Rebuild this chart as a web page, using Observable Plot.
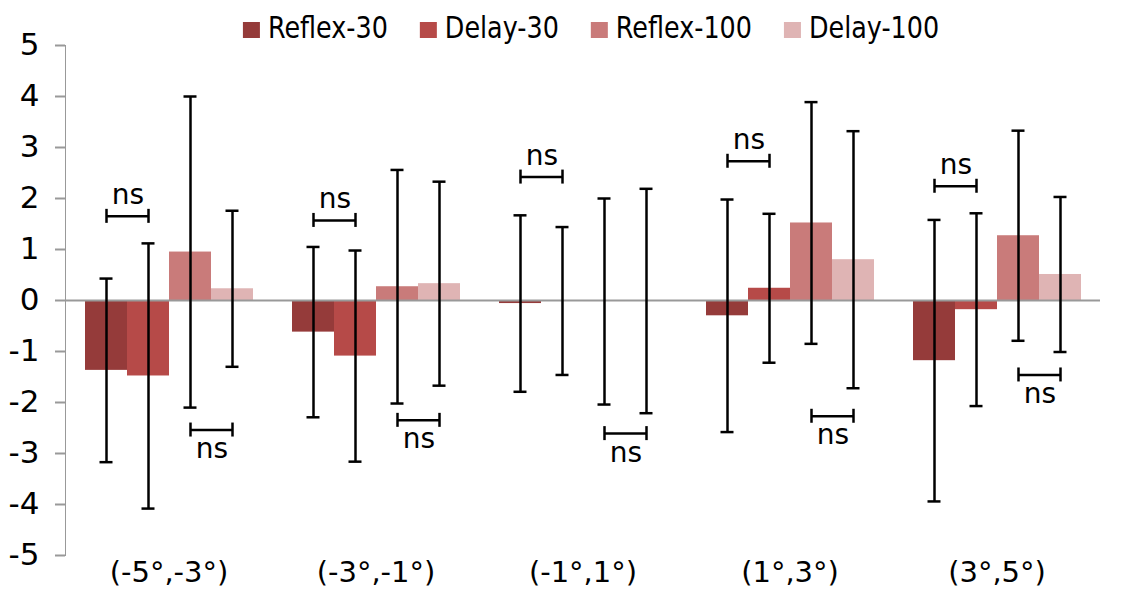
<!DOCTYPE html>
<html>
<head>
<meta charset="utf-8">
<script src="https://cdn.jsdelivr.net/npm/d3@7"></script>
<script src="https://cdn.jsdelivr.net/npm/@observablehq/plot@0.6"></script>
<style>
  html, body { margin: 0; padding: 0; background: #fff; }
  #wrap { position: relative; width: 1126px; height: 590px; }
  #wrap svg text { fill: #000; }
  #chart g[aria-label^="y-axis"] text { font-size: 31px; }
  #chart g[aria-label^="fx-axis"] text { font-size: 29px; }
  #chart g[aria-label^="y-axis"] line,
  #chart g[aria-label^="y-axis"] path { stroke: #999; stroke-width: 2; }
  #legend { position: absolute; left: 0; top: 0; }
</style>
</head>
<body>
<div id="wrap">
  <div id="chart"></div>
  <svg id="legend" width="1126" height="50"></svg>
</div>
<script>
// Eye-position bins and the four conditions
const categories = ["(-5°,-3°)", "(-3°,-1°)", "(-1°,1°)", "(1°,3°)", "(3°,5°)"];
const series = ["Reflex-30", "Delay-30", "Reflex-100", "Delay-100"];
const colors = ["#953b3a", "#b64a48", "#c97b7a", "#dfb4b4"];

// Mean per bin and condition
const reflex30 = [-1.37, -0.62, -0.06, -0.30, -1.18];
const delay30 = [-1.48, -1.09, -0.01, 0.24, -0.18];
const reflex100 = [0.95, 0.27, -0.02, 1.52, 1.27];
const delay100 = [0.23, 0.33, -0.01, 0.80, 0.51];

// Error bar half-lengths
const reflex30Err = [1.80, 1.67, 1.73, 2.28, 2.76];
const delay30Err = [2.60, 2.07, 1.45, 1.46, 1.89];
const reflex100Err = [3.05, 2.29, 2.02, 2.37, 2.06];
const delay100Err = [1.53, 2.00, 2.20, 2.52, 1.52];

// Heights of the "ns" comparison brackets
const nsAbove = [1.65, 1.57, 2.42, 2.73, 2.24];      // Reflex-30 vs Delay-30
const nsBelow = [-2.54, -2.35, -2.61, -2.27, -1.46]; // Reflex-100 vs Delay-100

const yTicks = [-5, -4, -3, -2, -1, 0, 1, 2, 3, 4, 5];

const means = [reflex30, delay30, reflex100, delay100];
const errs = [reflex30Err, delay30Err, reflex100Err, delay100Err];

const rows = [];
series.forEach((s, si) => categories.forEach((c, ci) => {
  rows.push({cat: c, series: s, value: means[si][ci], err: errs[si][ci]});
}));
const lo = d => d.value - d.err;
const hi = d => d.value + d.err;

const above = categories.map((c, i) => ({cat: c, y: nsAbove[i], from: "Reflex-30", to: "Delay-30"}));
const below = categories.map((c, i) => ({cat: c, y: nsBelow[i], from: "Reflex-100", to: "Delay-100"}));
const brackets = above.concat(below);

const ink = {stroke: "#000", strokeWidth: 2.5};

const chart = Plot.plot({
  width: 1126,
  height: 590,
  marginLeft: 64,
  marginRight: 26,
  marginTop: 45,
  marginBottom: 35,
  style: {fontFamily: "DejaVu Sans", fontSize: "28px", color: "#999", background: "#fff"},
  fx: {domain: categories, padding: 0, axis: "bottom", label: null, tickSize: 0, tickPadding: 6},
  x: {domain: series, axis: null, paddingInner: 0, paddingOuter: 0.41},
  y: {domain: [-5, 5], ticks: yTicks, tickSize: 10, tickPadding: 16, line: true, label: null, tickFormat: d => String(d)},
  color: {domain: series, range: colors},
  marks: [
    Plot.barY(rows, {fx: "cat", x: "series", y: "value", fill: "series"}),
    Plot.ruleY([0], {stroke: "#999", strokeWidth: 2}),
    // error bars with caps
    Plot.ruleX(rows, {fx: "cat", x: "series", y1: lo, y2: hi, ...ink}),
    Plot.tickY(rows, {fx: "cat", x: "series", y: lo, inset: 14.5, ...ink}),
    Plot.tickY(rows, {fx: "cat", x: "series", y: hi, inset: 14.5, ...ink}),
    // significance brackets
    Plot.link(brackets, {fx: "cat", x1: "from", x2: "to", y1: "y", y2: "y", ...ink}),
    Plot.ruleX(brackets, {fx: "cat", x: "from", y1: "y", y2: "y", insetTop: -7, insetBottom: -7, ...ink}),
    Plot.ruleX(brackets, {fx: "cat", x: "to", y1: "y", y2: "y", insetTop: -7, insetBottom: -7, ...ink}),
    Plot.text(above, {fx: "cat", x: "from", y: "y", text: () => "ns", dx: 21.5, dy: -21, fontSize: 28, fill: "#000"}),
    Plot.text(below, {fx: "cat", x: "from", y: "y", text: () => "ns", dx: 21.5, dy: 19, fontSize: 28, fill: "#000"})
  ]
});
document.getElementById("chart").appendChild(chart);

// Legend across the top, centred over the plot area
const leg = d3.select("#legend");
const legFont = 31, squeeze = 0.82, sw = 17, sh = 16, gapText = 8, gapItem = 32, legCenter = 591;
const items = series.map((s, i) => {
  const t = leg.append("text")
    .attr("font-family", "DejaVu Sans")
    .attr("font-size", legFont)
    .attr("y", 38)
    .text(s);
  const w = t.node().getComputedTextLength() * squeeze;
  t.attr("textLength", w).attr("lengthAdjust", "spacingAndGlyphs");
  return {t, w, color: colors[i]};
});
const total = d3.sum(items, d => sw + gapText + d.w) + gapItem * (items.length - 1);
let x0 = legCenter - total / 2;
items.forEach(d => {
  leg.append("rect").attr("x", x0).attr("y", 22).attr("width", sw).attr("height", sh).attr("fill", d.color);
  d.t.attr("x", x0 + sw + gapText);
  x0 += sw + gapText + d.w + gapItem;
});
</script>
</body>
</html>
